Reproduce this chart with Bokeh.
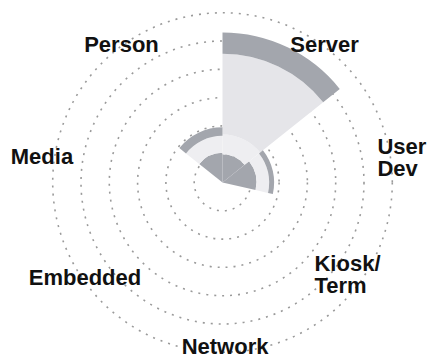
import numpy as np
from bokeh.plotting import figure
from bokeh.models import Range1d, ColumnDataSource
from bokeh.core.properties import value
from bokeh.embed import file_html
from bokeh.resources import INLINE

# ---- data ----
categories = ["Server", "User\nDev", "Kiosk/\nTerm", "Network", "Embedded", "Media", "Person"]
core_vals  = [20, 24, 0, 0, 0, 0, 21]   # dark inner layer
inner_vals = [14, 9, 0, 0, 0, 0, 12]    # lighter layer
main_vals  = [57, 0, 0, 0, 0, 0, 0]     # light layer
band_vals  = [15, 3.5, 0, 0, 0, 0, 6]   # dark outer band
ring_ticks = [20, 40, 60, 80, 100, 120]

layers = [core_vals, inner_vals, main_vals, band_vals]
layer_colors = ["#a3a6ad", "#eeeef1", "#e5e5e9", "#a3a6ad"]

# ---- figure ----
PX = 1.415  # pixels per unit
W, H = 428, 358
cx, cy = 222, 182  # center in figure pixels
p = figure(width=W, height=H, output_backend="svg", toolbar_location=None,
           x_range=Range1d(-cx / PX, (W - cx) / PX),
           y_range=Range1d(-(H - cy) / PX, cy / PX),
           x_axis_type=None, y_axis_type=None,
           min_border=0)
p.grid.visible = False
p.outline_line_color = None
p.background_fill_color = "white"

# dotted rings
p.circle(x=[0] * len(ring_ticks), y=[0] * len(ring_ticks), radius=ring_ticks,
         fill_color=None, line_color="#9a9a9a", line_width=1.6, line_dash="2 6")

n = len(categories)
w = 2 * np.pi / n
starts = np.array([np.pi / 2 - (i + 1) * w for i in range(n)])
ends = np.array([np.pi / 2 - i * w for i in range(n)])

base = np.zeros(n)
for vals, col in zip(layers, layer_colors):
    v = np.array(vals, dtype=float)
    top = base + v
    mask = v > 0
    src = ColumnDataSource(dict(inner=base[mask], outer=top[mask],
                                start=starts[mask], end=ends[mask]))
    p.annular_wedge(x=0, y=0, inner_radius="inner", outer_radius="outer",
                    start_angle="start", end_angle="end", source=src,
                    fill_color=col, line_color=None)
    base = top

# labels (baseline positions, data units)
label_pos = {
    "Server": (72.1, 97.5, "center"),
    "User\nDev": (109.5, 25.4, "left"),
    "Kiosk/\nTerm": (65.0, -57.2, "left"),
    "Network": (1.8, -115.6, "center"),
    "Embedded": (-97.2, -66.9, "center"),
    "Media": (-127.6, 18.4, "center"),
    "Person": (-71.4, 97.5, "center"),
}
line_h = 22 / PX
for cat in categories:
    x0, y0, al = label_pos[cat]
    for k, line in enumerate(cat.split("\n")):
        p.text(x=[x0], y=[y0 - k * line_h], text=[line],
               text_font=value("Liberation Sans"), text_font_style="bold",
               text_font_size="22px", text_color="#111111",
               text_align=al, text_baseline="alphabetic")

open("out.html", "w").write(file_html(p, INLINE))
